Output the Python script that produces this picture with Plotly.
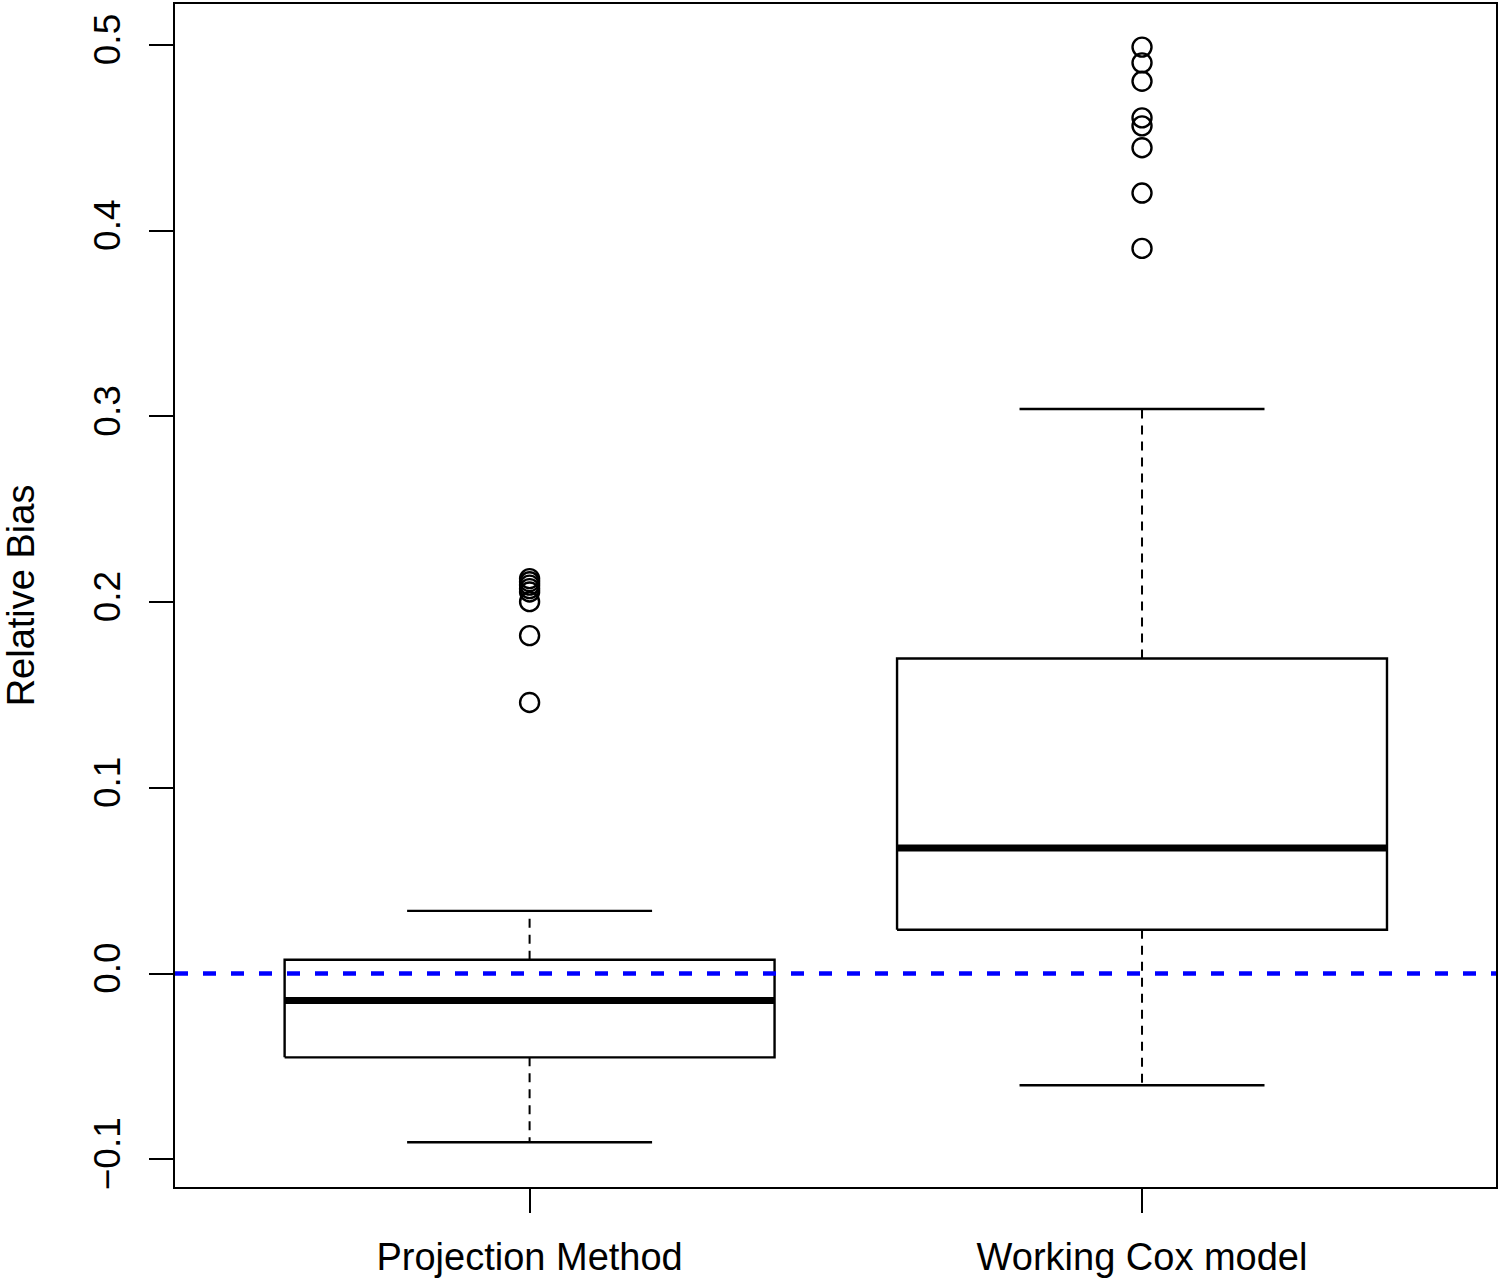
import plotly.graph_objects as go

# ---- data ----
categories = ["Projection Method", "Working Cox model"]
q1 = [-0.0451, 0.0236]
median = [-0.0145, 0.0677]
q3 = [0.0075, 0.1697]
lower_whisker = [-0.0908, -0.0601]
upper_whisker = [0.0338, 0.3040]
outliers_projection = [0.2127, 0.2110, 0.2092, 0.2073, 0.2055, 0.2003, 0.1820, 0.1460]
outliers_cox = [0.4989, 0.4904, 0.4805, 0.4608, 0.4565, 0.4447, 0.4203, 0.3905]
outliers = [outliers_projection, outliers_cox]
y_ticks = [-0.1, 0.0, 0.1, 0.2, 0.3, 0.4, 0.5]
reference_value = 0.0

FONT = "Liberation Sans, Arial, Helvetica, sans-serif"
BOX_HALF = 0.4
CAP_HALF = 0.2

fig = go.Figure()

for i, name in enumerate(categories):
    x = i + 1
    # box
    fig.add_trace(go.Scatter(
        x=[x - BOX_HALF, x + BOX_HALF, x + BOX_HALF, x - BOX_HALF, x - BOX_HALF],
        y=[q1[i], q1[i], q3[i], q3[i], q1[i]],
        mode="lines", line=dict(color="black", width=2.4),
        fill="toself", fillcolor="white", hoverinfo="skip", showlegend=False))
    # whiskers (dashed)
    fig.add_trace(go.Scatter(
        x=[x, x], y=[q3[i], upper_whisker[i]], mode="lines",
        line=dict(color="black", width=2, dash="9px,7px"), hoverinfo="skip", showlegend=False))
    fig.add_trace(go.Scatter(
        x=[x, x], y=[q1[i], lower_whisker[i]], mode="lines",
        line=dict(color="black", width=2, dash="9px,7px"), hoverinfo="skip", showlegend=False))
    # whisker caps
    for w in (upper_whisker[i], lower_whisker[i]):
        fig.add_trace(go.Scatter(
            x=[x - CAP_HALF, x + CAP_HALF], y=[w, w], mode="lines",
            line=dict(color="black", width=2.4), hoverinfo="skip", showlegend=False))
    # median
    fig.add_trace(go.Scatter(
        x=[x - BOX_HALF, x + BOX_HALF], y=[median[i], median[i]], mode="lines",
        line=dict(color="black", width=7), hoverinfo="skip", showlegend=False))
    # outliers
    fig.add_trace(go.Scatter(
        x=[x] * len(outliers[i]), y=outliers[i], mode="markers",
        marker=dict(symbol="circle-open", size=19, color="black", line=dict(width=2.4, color="black")),
        showlegend=False, name=name))

fig.add_hline(y=reference_value, line=dict(color="#0000FF", width=4.5, dash="13px,15px"))

fig.update_layout(
    width=1500, height=1280,
    margin=dict(l=175, r=2, t=2, b=92),
    paper_bgcolor="white", plot_bgcolor="white",
    font=dict(family=FONT, size=38, color="black"),
    showlegend=False,
    xaxis=dict(
        range=[0.421, 2.578], tickvals=[1, 2], ticktext=categories,
        showline=True, mirror=True, linecolor="black", linewidth=2,
        ticks="outside", ticklen=24, tickwidth=2, tickcolor="black",
        showgrid=False, zeroline=False, ticklabelstandoff=11,
        tickfont=dict(size=38)),
    yaxis=dict(
        range=[-0.1149, 0.5221], tickvals=y_ticks, tickformat=".1f",
        showline=True, mirror=True, linecolor="black", linewidth=2,
        ticks="outside", ticklen=24, tickwidth=2, tickcolor="black",
        showgrid=False, zeroline=False, tickangle=-90, ticklabelstandoff=14,
        tickfont=dict(size=37),
        title=dict(text="Relative Bias", standoff=58, font=dict(size=38))),
)

fig.write_html("out.html", config={"displayModeBar": False},
               post_script="document.body.style.margin='0';document.body.style.padding='0';")
